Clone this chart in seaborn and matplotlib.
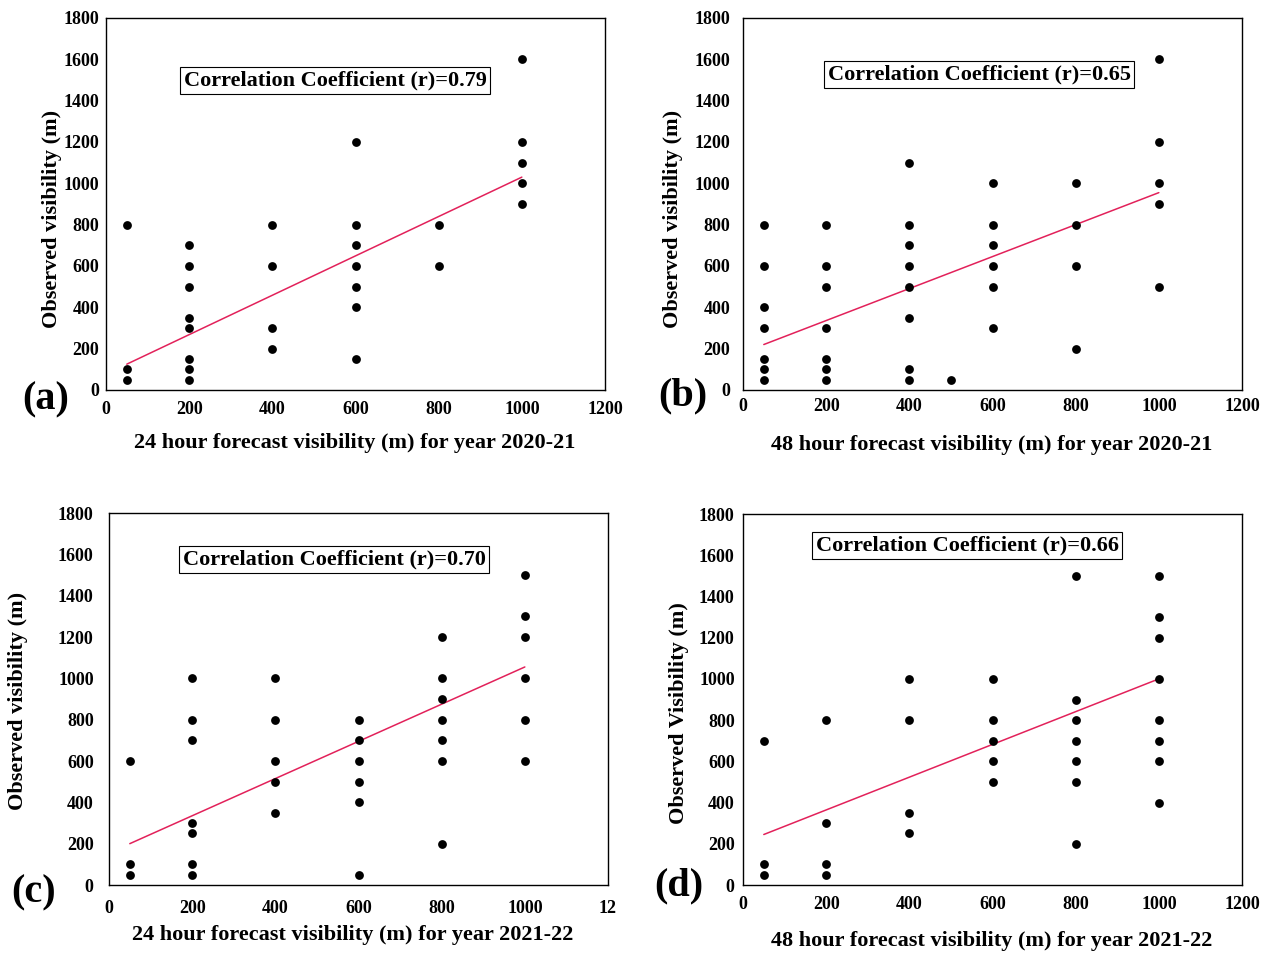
import matplotlib
matplotlib.use("Agg")
import matplotlib.pyplot as plt
import pandas as pd
import seaborn as sns

# ---- forecast vs observed visibility (m) ----
fc_a = [50, 50, 50, 200, 200, 200, 200, 200, 200, 200, 200, 400, 400, 400, 400,
        600, 600, 600, 600, 600, 600, 600, 800, 800, 1000, 1000, 1000, 1000, 1000]
obs_a = [800, 100, 50, 700, 600, 500, 350, 300, 150, 100, 50, 800, 600, 300, 200,
         1200, 800, 700, 600, 500, 400, 150, 800, 600, 1600, 1200, 1100, 1000, 900]

fc_b = [50, 50, 50, 50, 50, 50, 50, 200, 200, 200, 200, 200, 200, 200,
        400, 400, 400, 400, 400, 400, 400, 400, 500,
        600, 600, 600, 600, 600, 600, 800, 800, 800, 800,
        1000, 1000, 1000, 1000, 1000]
obs_b = [800, 600, 400, 300, 150, 100, 50, 800, 600, 500, 300, 150, 100, 50,
         1100, 800, 700, 600, 500, 350, 100, 50, 50,
         1000, 800, 700, 600, 500, 300, 1000, 800, 600, 200,
         1600, 1200, 1000, 900, 500]

fc_c = [50, 50, 50, 200, 200, 200, 200, 200, 200, 200, 400, 400, 400, 400, 400,
        600, 600, 600, 600, 600, 600, 800, 800, 800, 800, 800, 800, 800,
        1000, 1000, 1000, 1000, 1000, 1000]
obs_c = [600, 100, 50, 1000, 800, 700, 300, 250, 100, 50, 1000, 800, 600, 500, 350,
         800, 700, 600, 500, 400, 50, 1200, 1000, 900, 800, 700, 600, 200,
         1500, 1300, 1200, 1000, 800, 600]

fc_d = [50, 50, 50, 200, 200, 200, 200, 400, 400, 400, 400,
        600, 600, 600, 600, 600, 800, 800, 800, 800, 800, 800, 800,
        1000, 1000, 1000, 1000, 1000, 1000, 1000, 1000]
obs_d = [700, 100, 50, 800, 300, 100, 50, 1000, 800, 350, 250,
         1000, 800, 700, 600, 500, 1500, 900, 800, 700, 600, 500, 200,
         1500, 1300, 1200, 1000, 800, 700, 600, 400]

# fitted trend lines (end points over the forecast range)
trend_x = [50, 1000]
trend_a = [125, 1030]
trend_b = [220, 955]
trend_c = [200, 1055]
trend_d = [245, 1000]

r_values = ["0.79", "0.65", "0.70", "0.66"]
panel_tags = ["(a)", "(b)", "(c)", "(d)"]
x_titles = ["24 hour forecast visibility (m) for year 2020-21",
            "48 hour forecast visibility (m) for year 2020-21",
            "24 hour forecast visibility (m) for year 2021-22",
            "48 hour forecast visibility (m) for year 2021-22"]
y_titles = ["Observed visibility (m)", "Observed visibility (m)",
            "Observed visibility (m)", "Observed Visibility (m)"]
x_ticks = [0, 200, 400, 600, 800, 1000, 1200]
x_tick_labels = [["0", "200", "400", "600", "800", "1000", "1200"],
                 ["0", "200", "400", "600", "800", "1000", "1200"],
                 ["0", "200", "400", "600", "800", "1000", "12"],
                 ["0", "200", "400", "600", "800", "1000", "1200"]]
y_ticks = [0, 200, 400, 600, 800, 1000, 1200, 1400, 1600, 1800]

sns.set_theme(style="white")
plt.rcParams["font.family"] = ["Liberation Serif", "DejaVu Serif"]
plt.rcParams["font.weight"] = "bold"
for key in ["text.color", "axes.labelcolor", "xtick.color", "ytick.color"]:
    plt.rcParams[key] = "black"

W, H = 1272, 955
fig = plt.figure(figsize=(W / 100, H / 100), dpi=100)
fig.patch.set_facecolor("white")

# axes frames in pixels: left, top, right, bottom
frames = [(106, 18, 605, 390), (743, 18, 1242, 390),
          (109, 513, 608, 885), (743, 514, 1242, 885)]
xlabel_pos = [(355, 443), (992, 445), (353, 935), (992, 941)]
ylabel_pos = [(52, 219), (673, 219), (18, 701), (679, 713)]
tag_pos = [(46, 400), (683, 396), (34, 893), (679, 886)]
box_pos = [(0.459, 0.831), (0.473, 0.847), (0.451, 0.874), (0.449, 0.914)]
xpad = [8, 6, 11, 8]
ypad = [2, 6, 8, 3]

datasets = [(fc_a, obs_a, trend_a), (fc_b, obs_b, trend_b),
            (fc_c, obs_c, trend_c), (fc_d, obs_d, trend_d)]

line_red = "#e2215a"

for i, (fx, oy, tr) in enumerate(datasets):
    l, t, r, b = frames[i]
    ax = fig.add_axes([l / W, 1 - b / H, (r - l) / W, (b - t) / H])
    df = pd.DataFrame({"forecast": fx, "observed": oy})
    sns.lineplot(x=trend_x, y=tr, ax=ax, color=line_red, lw=1.1, zorder=2)
    sns.scatterplot(data=df, x="forecast", y="observed", ax=ax, color="black",
                    s=40, linewidth=0, zorder=3)
    ax.set_xlim(0, 1200)
    ax.set_ylim(0, 1800)
    ax.set_xticks(x_ticks)
    ax.set_xticklabels(x_tick_labels[i])
    ax.set_yticks(y_ticks)
    ax.tick_params(axis="x", length=0, pad=xpad[i], labelsize=13)
    ax.tick_params(axis="y", direction="out", length=3, width=0.8,
                   color="black", pad=ypad[i], labelsize=13)
    for lab in ax.get_xticklabels() + ax.get_yticklabels():
        lab.set_fontweight("bold")
    for s in ax.spines.values():
        s.set_color("black")
        s.set_linewidth(1.0)
    ax.grid(False)

    ax.set_xlabel(x_titles[i], fontsize=16, fontweight="bold")
    ax.xaxis.set_label_coords(xlabel_pos[i][0] / W, 1 - xlabel_pos[i][1] / H,
                              transform=fig.transFigure)
    ax.xaxis.label.set_va("center")
    ax.set_ylabel(y_titles[i], fontsize=16, fontweight="bold")
    ax.yaxis.set_label_coords(ylabel_pos[i][0] / W, 1 - ylabel_pos[i][1] / H,
                              transform=fig.transFigure)
    ax.yaxis.label.set_va("center")

    ax.text(box_pos[i][0], box_pos[i][1],
            f"Correlation Coefficient (r)={r_values[i]}",
            transform=ax.transAxes, ha="center", va="center",
            fontsize=16, fontweight="bold", zorder=4,
            bbox=dict(boxstyle="square,pad=0.16", facecolor="white",
                      edgecolor="black", linewidth=0.8))

    fig.text(tag_pos[i][0] / W, 1 - tag_pos[i][1] / H, panel_tags[i],
             ha="center", va="center", fontsize=29, fontweight="bold")

fig.savefig("out.png", dpi=100, facecolor="white")
